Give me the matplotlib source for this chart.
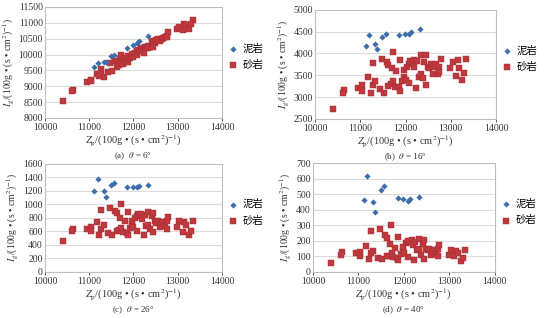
import matplotlib.pyplot as plt
import numpy as np

plt.rcParams['font.family'] = ['Liberation Serif', 'Noto Sans CJK SC']
plt.rcParams['mathtext.fontset'] = 'stix'

# --- data ---
zp_shale = [11120, 11190, 11330, 11370, 11490, 11570, 11860, 11980, 12080, 12130, 12330]
ig_shale_a = [9600, 9730, 9760, 9760, 9940, 10000, 10220, 10300, 10380, 10430, 10600]
ig_shale_b = [4170, 4430, 4220, 4110, 4380, 4450, 4420, 4450, 4450, 4490, 4570]
ig_shale_c = [1200, 1380, 1200, 1110, 1290, 1320, 1260, 1255, 1250, 1265, 1290]
ig_shale_d = [460, 620, 450, 385, 525, 555, 478, 470, 458, 472, 485]

zp_sand = [10400, 10630, 10620, 10940, 11030, 11030, 11170, 11270, 11230, 11270,
           11330, 11430, 11470, 11520, 11590, 11620, 11620, 11670, 11700, 11720,
           11730, 11760, 11800, 11850, 11880, 11880, 11930, 11970, 11970, 12000,
           12040, 12080, 12080, 12100, 12140, 12180, 12190, 12250, 12230, 12290,
           12340, 12340, 12380, 12410, 12450, 12490, 12450, 12520, 12560, 12600,
           12640, 12670, 12710, 12750, 12780, 12750, 12990, 13040, 13110, 13150,
           13190, 13260, 13340, 13300]
ig_sand_a = [8520, 8880, 8850, 9120, 9200, 9170, 9380, 9560, 9330, 9400,
             9300, 9450, 9730, 9480, 9800, 9780, 9620, 9680, 9850, 10000,
             9720, 9700, 9900, 9780, 9950, 9750, 9880, 9950, 10020, 9920,
             10050, 10100, 9980, 10150, 10120, 10200, 10100, 10250, 10050, 10200,
             10280, 10220, 10250, 10400, 10420, 10380, 10250, 10450, 10500, 10430,
             10480, 10520, 10550, 10600, 10700, 10560, 10800, 10880, 10780, 10950,
             10920, 10800, 11100, 10950]
ig_sand_b = [2730, 3170, 3100, 3210, 3270, 3140, 3450, 3780, 3090, 3280,
             3380, 3180, 3870, 3090, 3810, 3740, 3260, 3300, 3660, 4030,
             3370, 3230, 3590, 3240, 3860, 3150, 3360, 3460, 3620, 3400,
             3700, 3750, 3320, 3820, 3780, 3860, 3700, 3820, 3210, 3470,
             3960, 3540, 3430, 3810, 3960, 3700, 3280, 3660, 3760, 3540,
             3700, 3760, 3540, 3700, 3880, 3580, 3660, 3810, 3480, 3850,
             3660, 3400, 3880, 3550]
ig_sand_c = [450, 640, 600, 640, 660, 600, 740, 920, 550, 640,
             690, 580, 950, 540, 900, 870, 600, 620, 800, 1010,
             650, 590, 760, 580, 890, 540, 650, 700, 760, 670,
             800, 830, 610, 850, 820, 860, 780, 840, 540, 680,
             880, 700, 640, 820, 870, 760, 590, 720, 750, 660,
             720, 740, 680, 760, 810, 640, 670, 750, 590, 740,
             700, 550, 760, 610]
ig_sand_d = [60, 125, 110, 120, 130, 100, 165, 260, 85, 120,
             135, 90, 275, 80, 240, 215, 100, 105, 180, 305,
             120, 95, 155, 90, 225, 75, 115, 135, 160, 120,
             185, 195, 95, 200, 190, 205, 170, 195, 75, 140,
             210, 150, 110, 180, 205, 150, 80, 140, 145, 110,
             130, 140, 115, 150, 170, 100, 110, 140, 100, 135,
             120, 70, 140, 90]

panels = [
    ('(a)', '6', ig_shale_a, ig_sand_a, (8000, 11500, 500), [0.082, 0.629, 0.323, 0.349]),
    ('(b)', '16', ig_shale_b, ig_sand_b, (2500, 5000, 500), [0.575, 0.626, 0.330, 0.343]),
    ('(c)', '26', ig_shale_c, ig_sand_c, (0, 1600, 200), [0.082, 0.145, 0.323, 0.340]),
    ('(d)', '40', ig_shale_d, ig_sand_d, (0, 700, 100), [0.571, 0.145, 0.332, 0.342]),
]

blue = '#3D6DAA'
red = '#BE3A3E'
text_color = '#333333'
frame_color = '#BFBFBF'
grid_color = '#DCDCDC'

fig = plt.figure(figsize=(5.48, 3.18), dpi=100)
fig.patch.set_facecolor('white')

for tag, theta, shale, sand, (y0, y1, ystep), pos in panels:
    ax = fig.add_axes(pos)
    ax.scatter(zp_shale, shale, marker='D', s=10, color=blue, linewidths=0, label='泥岩', zorder=3)
    ax.scatter(zp_sand, sand, marker='s', s=24, color=red, edgecolors='#A52A30',
               linewidths=0.3, label='砂岩', zorder=2)

    ax.set_xlim(10000, 14000)
    ax.set_ylim(y0, y1)
    ax.set_xticks(np.arange(10000, 14001, 1000))
    ax.set_yticks(np.arange(y0, y1 + 1, ystep))
    ax.yaxis.grid(True, color=grid_color, linewidth=0.8)
    ax.set_axisbelow(True)
    for side in ['top', 'right', 'left', 'bottom']:
        ax.spines[side].set_color(frame_color)
        ax.spines[side].set_linewidth(0.8)
    ax.tick_params(axis='both', labelsize=7, colors=text_color, length=2, width=0.6, pad=1.5)
    ax.tick_params(axis='y', length=0)
    for lbl in ax.get_xticklabels() + ax.get_yticklabels():
        lbl.set_color(text_color)

    ax.set_ylabel('$I_{\\mathrm{g}}$/(100g • (s • cm$^{2}$)$^{-1}$)', fontsize=7, color=text_color, labelpad=2)
    ax.set_xlabel('$Z_{\\mathrm{p}}$/(100g • (s • cm$^{2}$)$^{-1}$)', fontsize=7.5, color=text_color, labelpad=0.5)

    left, bottom, width, height = pos
    fig.text(left + width / 2, bottom - 0.12, tag + '  $\\theta$ = ' + theta + '°',
             ha='center', va='center', fontsize=6.5, color=text_color)

    ax.legend(loc='center left', bbox_to_anchor=(1.0, 0.55), frameon=False,
              prop={'family': ['Noto Sans CJK SC'], 'size': 7.5},
              handletextpad=0.3, labelspacing=0.6, borderaxespad=0.1,
              markerscale=1.0, handlelength=1.2)

fig.savefig('out.png', dpi=100)
